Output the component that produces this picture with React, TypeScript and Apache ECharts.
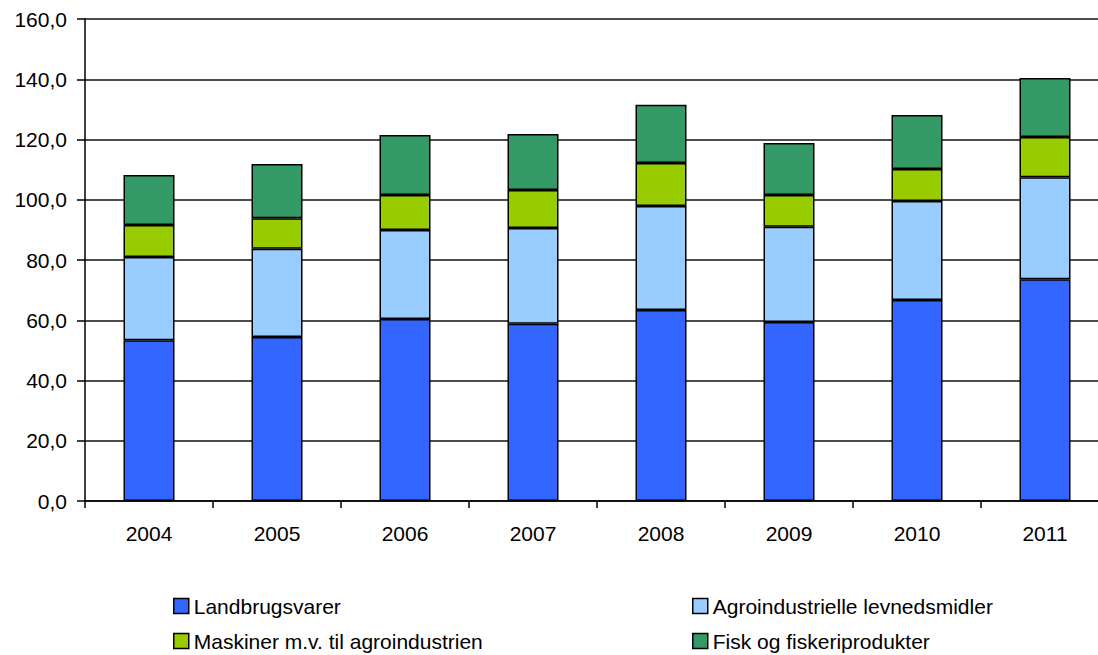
import React, { useEffect, useRef } from "react";
import * as echarts from "echarts";

const years = ["2004", "2005", "2006", "2007", "2008", "2009", "2010", "2011"];
const landbrugsvarer = [53.4, 54.4, 60.4, 58.8, 63.4, 59.4, 66.7, 73.6];
const agroindustrielle = [27.6, 29.3, 29.6, 31.8, 34.5, 31.6, 32.9, 33.9];
const maskiner = [10.6, 10.2, 11.6, 12.6, 14.3, 10.6, 10.6, 13.3];
const fisk = [16.6, 18.0, 19.9, 18.6, 19.3, 17.2, 17.9, 19.6];

const seriesNames = [
  "Landbrugsvarer",
  "Agroindustrielle levnedsmidler",
  "Maskiner m.v. til agroindustrien",
  "Fisk og fiskeriprodukter",
];
const seriesColors = ["#3366FF", "#99CCFF", "#99CC00", "#339966"];
const seriesData = [landbrugsvarer, agroindustrielle, maskiner, fisk];

const FONT = "'Liberation Sans', Arial, sans-serif";

export default function App() {
  const ref = useRef<HTMLDivElement>(null);
  useEffect(() => {
    if (!ref.current) return;
    const chart = echarts.init(ref.current, undefined, { renderer: "svg" });
    const legendPos = [
      { left: 173, top: 595 },
      { left: 692, top: 595 },
      { left: 173, top: 630 },
      { left: 692, top: 630 },
    ];
    chart.setOption({
      animation: false,
      textStyle: { fontFamily: FONT, color: "#000" },
      grid: { left: 85, right: 0, top: 19, bottom: 154, containLabel: false },
      legend: seriesNames.map((n, i) => ({
        data: [n],
        left: legendPos[i].left,
        top: legendPos[i].top,
        padding: 0,
        icon: "rect",
        itemWidth: 15,
        itemHeight: 15,
        itemGap: 8,
        selectedMode: false,
        itemStyle: { borderColor: "#000", borderWidth: 1.5 },
        textStyle: { fontSize: 21, color: "#000", fontFamily: FONT, lineHeight: 22, padding: [0, 0, 0, 0] },
      })),
      xAxis: {
        type: "category",
        data: years,
        boundaryGap: true,
        axisLine: { lineStyle: { color: "#000", width: 1.5 } },
        axisTick: { show: true, alignWithLabel: false, length: 7, lineStyle: { color: "#000", width: 1.5 } },
        axisLabel: { color: "#000", fontSize: 21, fontFamily: FONT, margin: 22 },
        splitLine: { show: false },
      },
      yAxis: {
        type: "value",
        min: 0,
        max: 160,
        interval: 20,
        axisLine: { show: true, lineStyle: { color: "#000", width: 1.5 } },
        axisTick: { show: true, length: 8, lineStyle: { color: "#000", width: 1.5 } },
        axisLabel: {
          color: "#000",
          fontSize: 21,
          fontFamily: FONT,
          margin: 18,
          formatter: (v: number) => v.toFixed(1).replace(".", ","),
        },
        splitLine: { show: true, lineStyle: { color: "#111", width: 1.5 } },
      },
      series: seriesNames.map((n, i) => ({
        name: n,
        type: "bar",
        stack: "total",
        barWidth: 51,
        data: seriesData[i],
        itemStyle: { color: seriesColors[i], borderColor: "#000", borderWidth: 1.5 },
        emphasis: { disabled: true },
      })),
    });
    return () => chart.dispose();
  }, []);
  return (
    <div style={{ position: "fixed", left: 0, top: 0, width: 1098, height: 655, overflow: "hidden", background: "#fff" }}>
      <div ref={ref} style={{ width: 1109, height: 655 }} />
    </div>
  );
}
